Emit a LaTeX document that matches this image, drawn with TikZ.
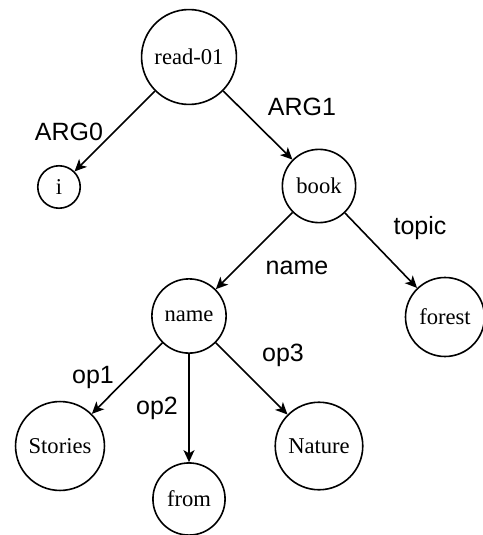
\documentclass[tikz,border=0pt]{standalone}
\usepackage{fontspec}
\setmainfont{Liberation Serif}
\setsansfont{Liberation Sans}
\usetikzlibrary{arrows.meta}

\begin{document}
\begin{tikzpicture}[x=0.5pt, y=-0.5pt,
		concept/.style={circle, draw, line width=0.8pt, inner sep=4.8pt, font=\fontsize{11.3}{13}\selectfont},
		role/.style={font=\sffamily\fontsize{12.5}{15}\selectfont},
		rel/.style={-{Stealth[length=6pt, width=5.5pt, inset=1.6pt]}, line width=0.8pt}]
	\useasboundingbox (0, 0) rectangle (482, 535);

	\node[concept] (read) at (189, 57) {read-01};
	\node[concept] (i) at (59, 187) {i};
	\node[concept] (book) at (319, 186) {book};
	\node[concept] (name) at (189, 316) {name};
	\node[concept] (forest) at (445, 317) {forest};
	\node[concept] (stories) at (60, 446) {Stories};
	\node[concept] (from) at (189, 499) {from};
	\node[concept] (nature) at (319, 446) {Nature};

	\draw[rel] (read) -- (i);
	\node[role] (arg0) at (69, 132) {ARG0};

	\draw[rel] (read) -- (book);
	\node[role] (arg1) at (302, 107) {ARG1};

	\draw[rel] (book) -- (name);
	\node[role] (rname) at (297, 268) {name};

	\draw[rel] (book) -- (forest);
	\node[role] (topic) at (420, 228) {topic};

	\draw[rel] (name) -- (stories);
	\node[role] (op1) at (93, 377) {op1};

	\draw[rel] (name) -- (from);
	\node[role] (op2) at (157, 408) {op2};

	\draw[rel] (name) -- (nature);
	\node[role] (op3) at (283, 355) {op3};
\end{tikzpicture}
\end{document}
